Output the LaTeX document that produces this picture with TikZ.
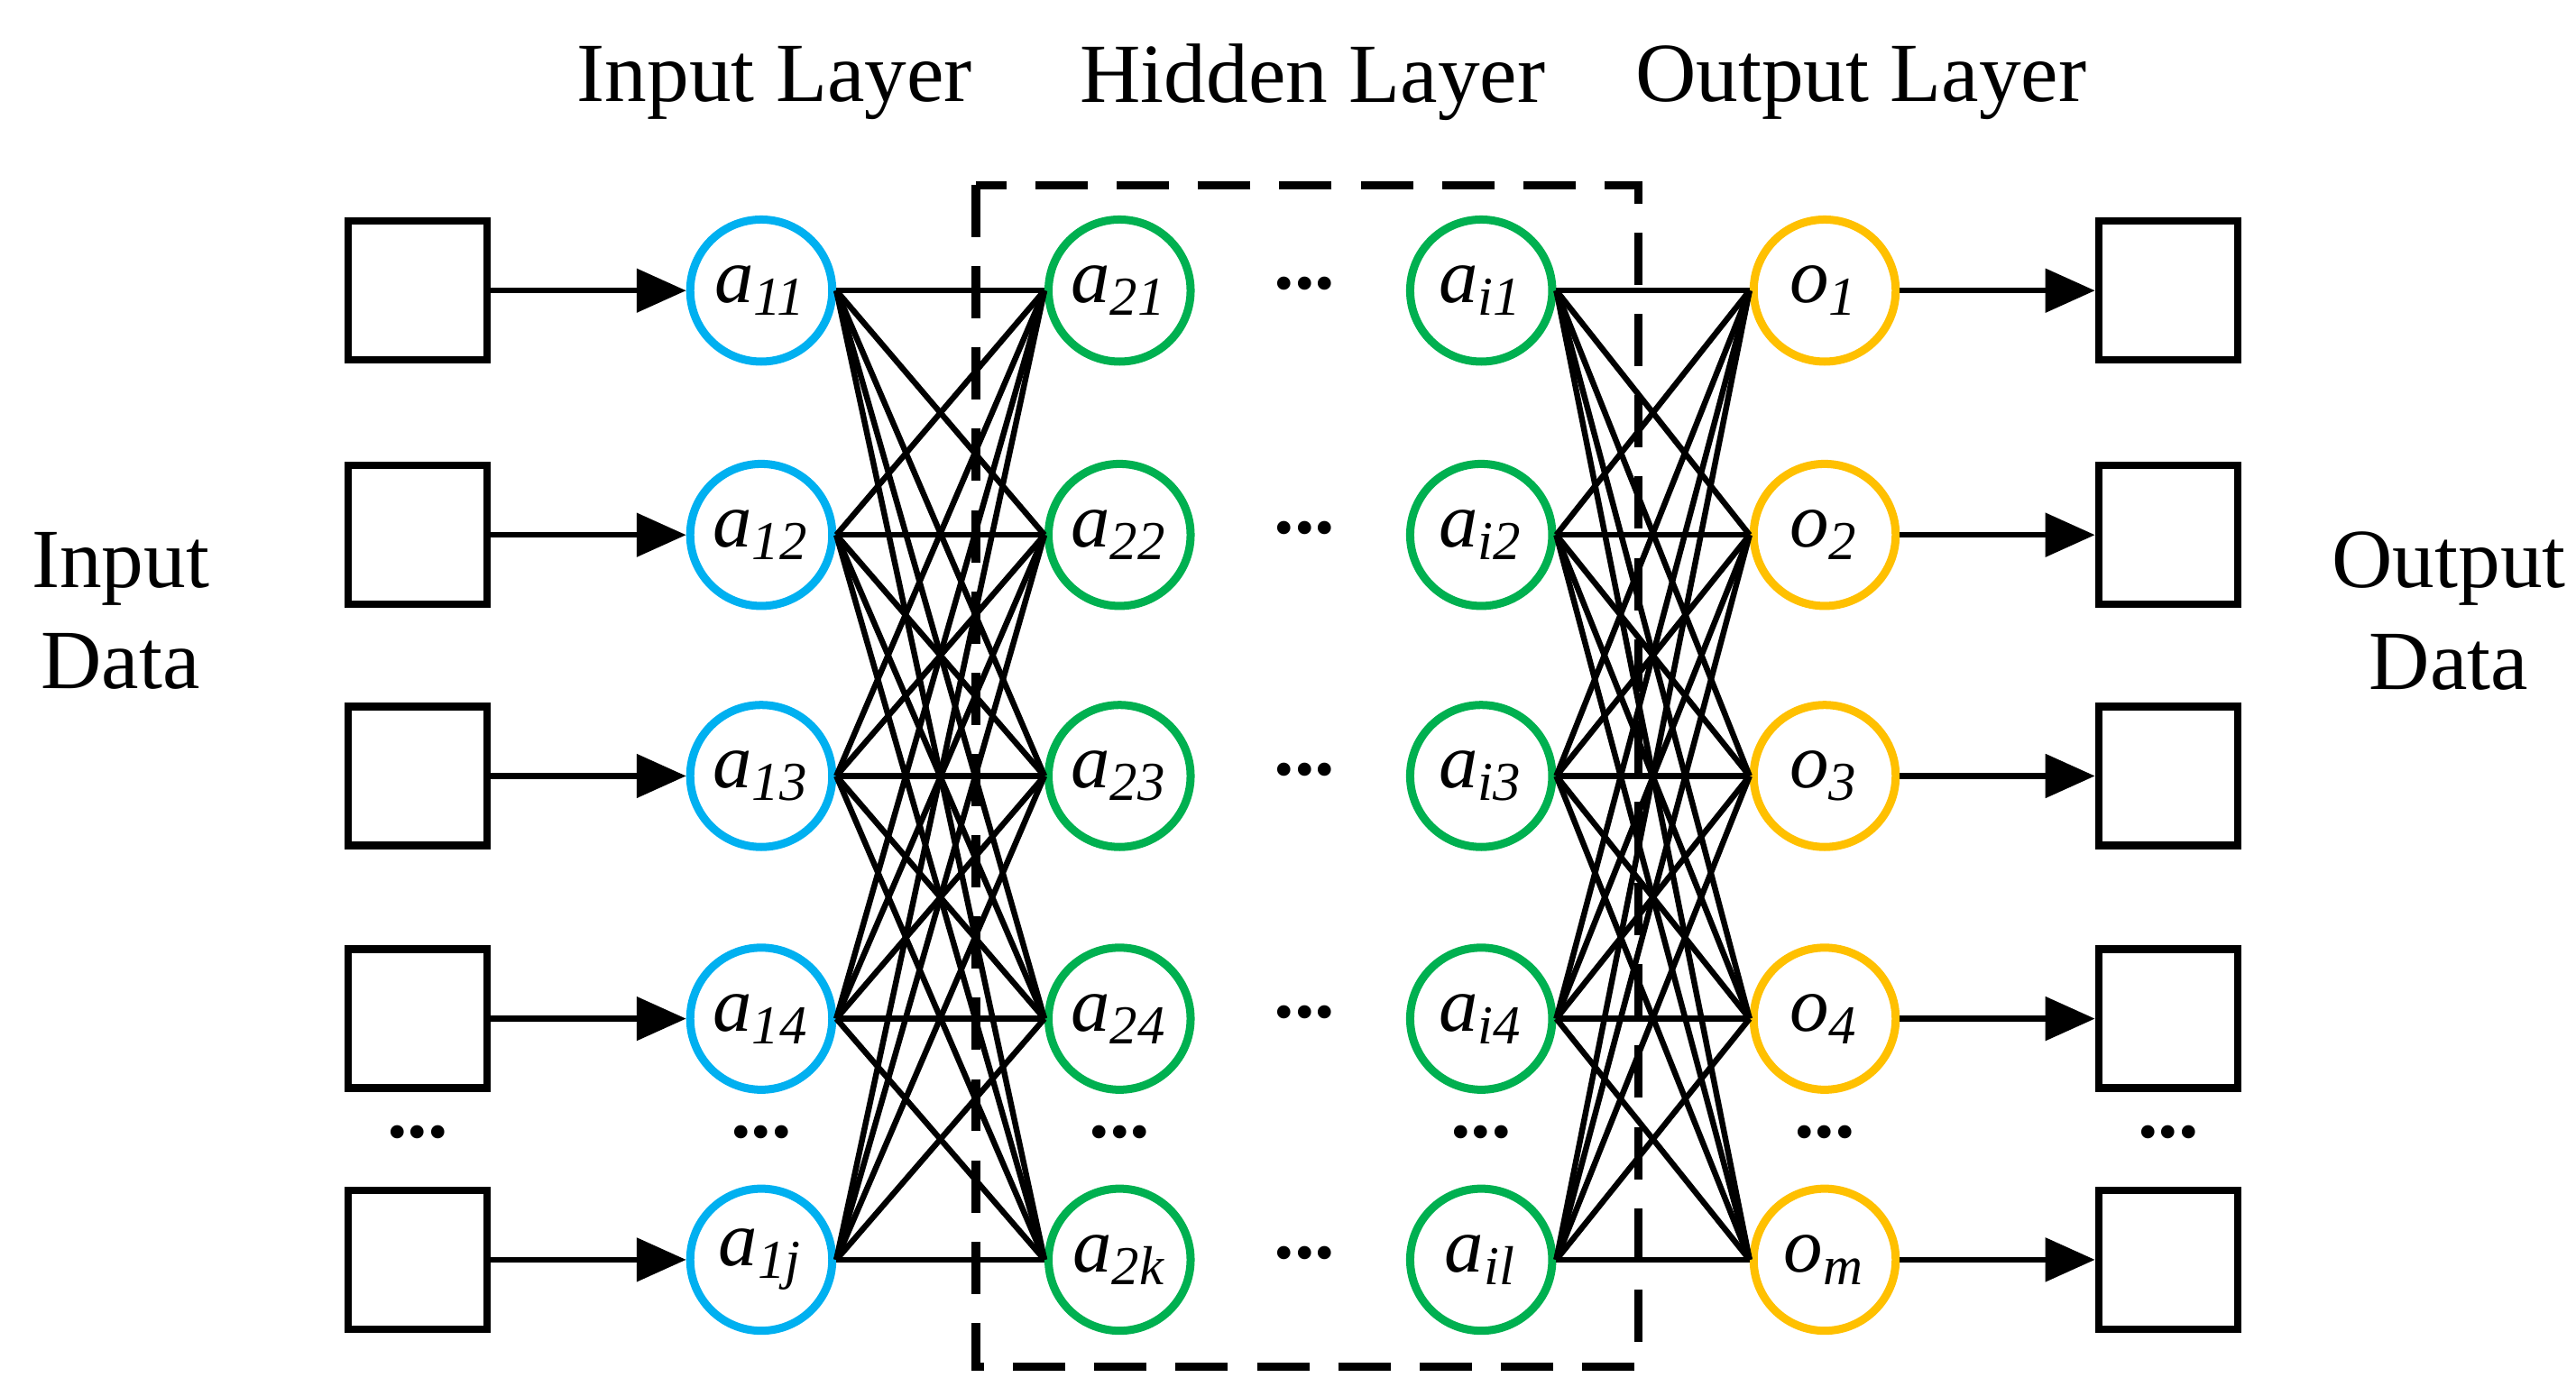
\documentclass[tikz,border=0pt]{standalone}
\usepackage{fontspec}
\setmainfont{Liberation Serif}
\usetikzlibrary{arrows.meta}
\begin{document}
\begin{tikzpicture}[x=0.01cm,y=-0.01cm,
  box/.style={draw,line width=1.3pt,minimum size=0.84cm,inner sep=0},
  neu/.style={circle,draw,line width=1.4pt,minimum size=0.86cm,inner sep=0,font=\fontsize{13.5}{14}\selectfont\itshape},
  blu/.style={neu,draw={rgb,255:red,0;green,176;blue,240}},
  grn/.style={neu,draw={rgb,255:red,0;green,176;blue,80}},
  org/.style={neu,draw={rgb,255:red,255;green,192;blue,0}},
  con/.style={line width=1pt},
  arr/.style={line width=1pt,-{Triangle[length=0.3cm,width=0.26cm]}},
  ttl/.style={font=\fontsize{14.5}{17.5}\selectfont},
  dots/.style={font=\fontsize{14}{14}\selectfont\bfseries}]
\useasboundingbox (0,0) rectangle (1560,845);
\foreach \y/\i in {176/1,324/2,470/3,617/4,763/5}{
  \node[box] (L\i) at (253,\y) {};
  \node[box] (R\i) at (1313,\y) {};
}
\node[blu] (A1) at (461,176) {a\textsubscript{11}};
\node[blu] (A2) at (461,324) {a\textsubscript{12}};
\node[blu] (A3) at (461,470) {a\textsubscript{13}};
\node[blu] (A4) at (461,617) {a\textsubscript{14}};
\node[blu] (A5) at (461,763) {a\textsubscript{1j}};
\node[grn] (B1) at (678,176) {a\textsubscript{21}};
\node[grn] (B2) at (678,324) {a\textsubscript{22}};
\node[grn] (B3) at (678,470) {a\textsubscript{23}};
\node[grn] (B4) at (678,617) {a\textsubscript{24}};
\node[grn] (B5) at (678,763) {a\textsubscript{2k}};
\node[grn] (C1) at (897,176) {a\textsubscript{i1}};
\node[grn] (C2) at (897,324) {a\textsubscript{i2}};
\node[grn] (C3) at (897,470) {a\textsubscript{i3}};
\node[grn] (C4) at (897,617) {a\textsubscript{i4}};
\node[grn] (C5) at (897,763) {a\textsubscript{il}};
\node[org] (O1) at (1105,176) {o\textsubscript{1}};
\node[org] (O2) at (1105,324) {o\textsubscript{2}};
\node[org] (O3) at (1105,470) {o\textsubscript{3}};
\node[org] (O4) at (1105,617) {o\textsubscript{4}};
\node[org] (O5) at (1105,763) {o\textsubscript{m}};
\foreach \i in {1,...,5}{
  \draw[arr] (L\i) -- (A\i);
  \draw[arr] (O\i) -- (R\i);
  \foreach \j in {1,...,5}{
    \draw[con] (A\i.east) -- (B\j.west);
    \draw[con] (C\i.east) -- (O\j.west);
  }
}
\foreach \y/\i in {176/1,324/2,470/3,617/4,763/5}{
  \node[dots] (D\i) at (790,\y-4) {...};
}
\foreach \x/\i in {253/1,461/2,678/3,897/4,1105/5,1313/6}{
  \node[dots] (E\i) at (\x,686) {...};
}
\coordinate (h1) at (591,112);
\coordinate (h2) at (992,828);
\draw[line width=1.4pt,dash pattern=on 9pt off 5pt] (h1) rectangle (h2);
\node[ttl] (t1) at (469,50) {Input Layer};
\node[ttl] (t2) at (795,50) {Hidden Layer};
\node[ttl] (t3) at (1127,50) {Output Layer};
\node[ttl,align=center] (t4) at (73,370) {Input\\Data};
\node[ttl,align=center] (t5) at (1483,370) {Output\\Data};
\end{tikzpicture}
\end{document}
